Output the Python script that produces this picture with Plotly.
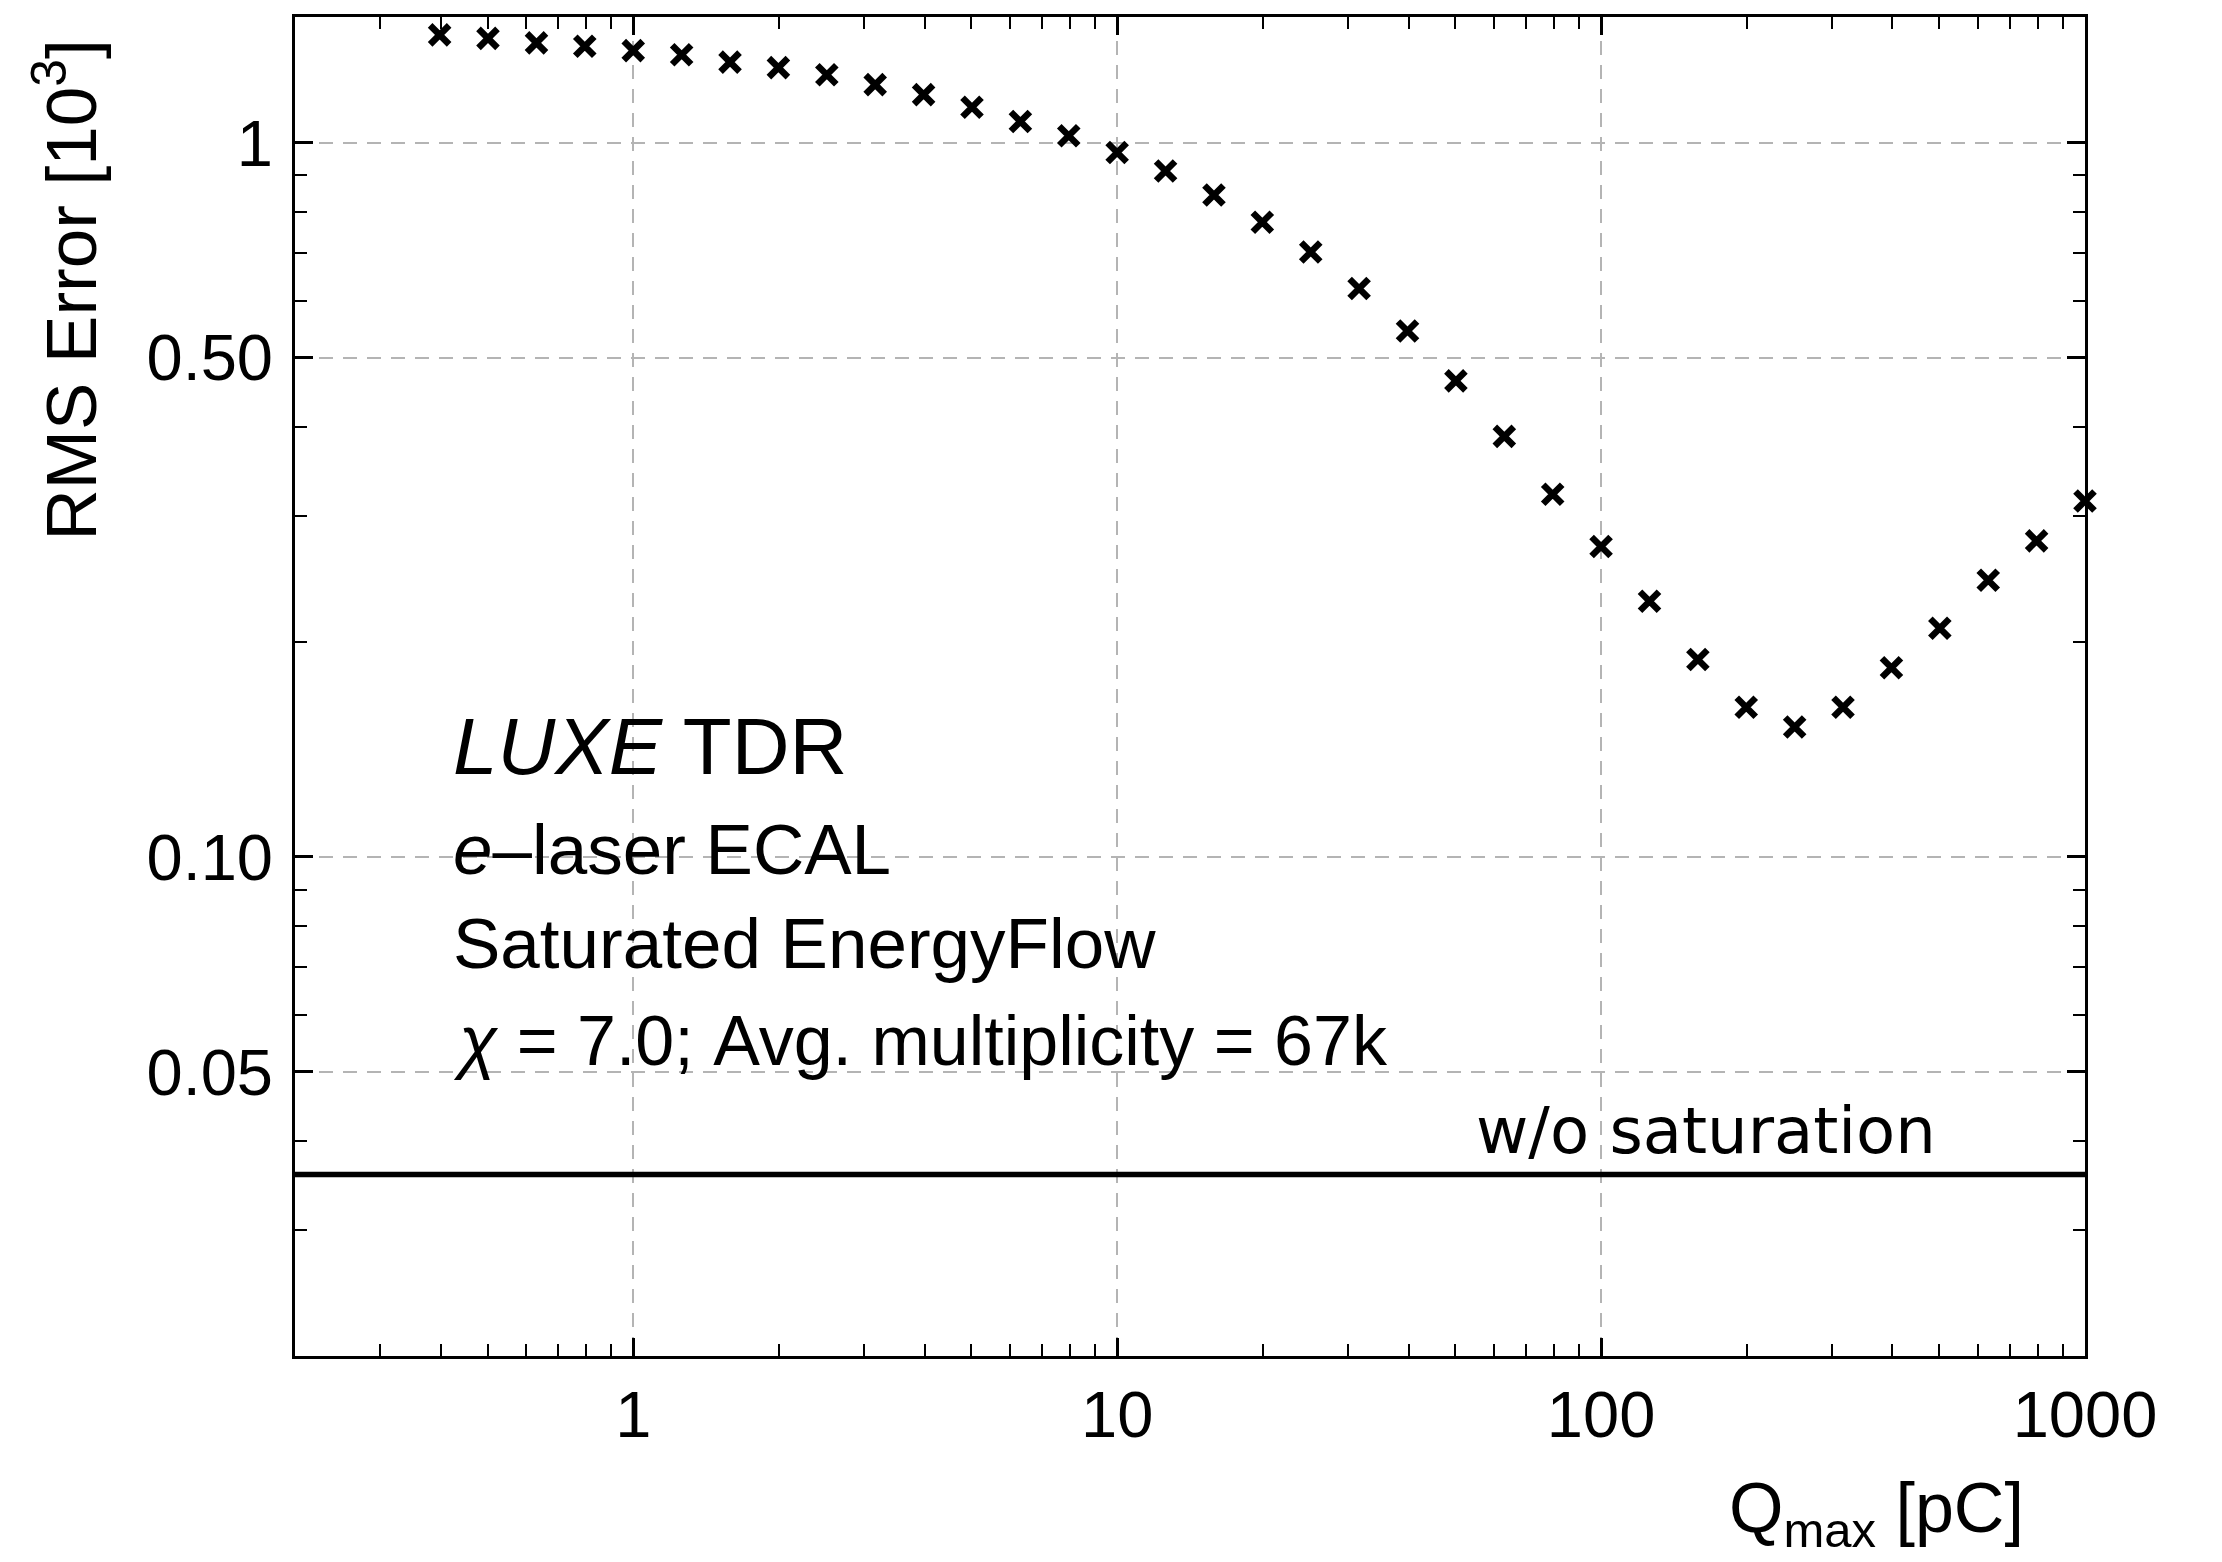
import plotly.graph_objects as go
import math

# Data
q_max = [0.398, 0.501, 0.631, 0.794, 1.0, 1.259, 1.585, 1.995, 2.512, 3.162,
         3.981, 5.012, 6.310, 7.943, 10.0, 12.59, 15.85, 19.95, 25.12, 31.62,
         39.81, 50.12, 63.10, 79.43, 100.0, 125.9, 158.5, 199.5, 251.2, 316.2,
         398.1, 501.2, 631.0, 794.3, 1000.0]
rms_error = [1.416, 1.40, 1.38, 1.365, 1.346, 1.328, 1.297, 1.274, 1.245, 1.206,
             1.168, 1.121, 1.071, 1.023, 0.969, 0.913, 0.845, 0.774, 0.703, 0.625,
             0.545, 0.464, 0.388, 0.322, 0.272, 0.228, 0.189, 0.162, 0.152, 0.162,
             0.184, 0.209, 0.244, 0.277, 0.315]
wo_saturation = 0.0359

x_major = [1, 10, 100, 1000]
x_major_text = ["1", "10", "100", "1000"]
x_minor = [0.3, 0.4, 0.5, 0.6, 0.7, 0.8, 0.9,
           2, 3, 4, 5, 6, 7, 8, 9,
           20, 30, 40, 50, 60, 70, 80, 90,
           200, 300, 400, 500, 600, 700, 800, 900]
y_major = [0.05, 0.1, 0.5, 1]
y_major_text = ["0.05", "0.10", "0.50", "1"]
y_minor = [0.02, 0.03, 0.04, 0.06, 0.07, 0.08, 0.09,
           0.2, 0.3, 0.4, 0.6, 0.7, 0.8, 0.9]

x_range = [0.2, 1000]
y_range = [0.02, 1.5]

FONT = "Liberation Sans, Arial, Helvetica, sans-serif"

fig = go.Figure()
fig.add_trace(go.Scatter(
    x=[0.1, 2000], y=[wo_saturation, wo_saturation], mode="lines",
    line=dict(color="black", width=5.5), showlegend=False, hoverinfo="skip"))
fig.add_trace(go.Scatter(
    x=q_max, y=rms_error, mode="markers",
    marker=dict(symbol="x-thin", size=19, color="black",
                line=dict(color="black", width=6.5)),
    showlegend=False, cliponaxis=False))

axis_common = dict(
    type="log", showline=True, linecolor="black", linewidth=3, mirror="ticks",
    ticks="inside", ticklen=18, tickwidth=2.5, tickcolor="black",
    showgrid=True, gridcolor="#b4b4b4", gridwidth=1.5, griddash="14px,10px",
    zeroline=False, tickmode="array",
    tickfont=dict(family=FONT, size=65, color="black"),
)

fig.update_xaxes(
    **axis_common,
    range=[math.log10(x_range[0]), math.log10(x_range[1])],
    tickvals=x_major, ticktext=x_major_text,
    minor=dict(tickmode="array", tickvals=x_minor, ticks="inside", ticklen=12,
               tickwidth=2, tickcolor="black", showgrid=False),
    ticklabelstandoff=0,
)
fig.update_yaxes(
    **axis_common,
    range=[math.log10(y_range[0]), math.log10(y_range[1])],
    tickvals=y_major, ticktext=y_major_text,
    minor=dict(tickmode="array", tickvals=y_minor, ticks="inside", ticklen=12,
               tickwidth=2, tickcolor="black", showgrid=False),
    ticklabelstandoff=6,
)

annotations = [
    dict(text="<i>LUXE</i> TDR", x=0.087, y=0.455, size=80),
    dict(text="<i>e</i>–laser ECAL", x=0.087, y=0.378, size=71),
    dict(text="Saturated EnergyFlow", x=0.087, y=0.308, size=71),
    dict(text="<i>χ</i> = 7.0; Avg. multiplicity = 67k", x=0.087, y=0.235, size=70),
]
for a in annotations:
    fig.add_annotation(text=a["text"], x=a["x"], y=a["y"], xref="paper", yref="paper",
                       xanchor="left", yanchor="middle", showarrow=False,
                       font=dict(family=FONT, size=a["size"], color="black"))

fig.add_annotation(text="w/o saturation", x=0.918, y=0.168, xref="paper", yref="paper",
                   xanchor="right", yanchor="middle", showarrow=False,
                   font=dict(family="DejaVu Sans", size=64, color="black"))
fig.add_annotation(text="Q<sub>max</sub> [pC]", x=0.967, y=-0.117, xref="paper", yref="paper",
                   xanchor="right", yanchor="middle", showarrow=False,
                   font=dict(family=FONT, size=70, color="black"))
fig.add_annotation(text="RMS Error [10<sup>3</sup>]", x=-0.128, y=0.985, xref="paper", yref="paper",
                   xanchor="center", yanchor="top", textangle=-90, showarrow=False,
                   font=dict(family=FONT, size=71, color="black"))

fig.update_layout(
    width=2222, height=1562,
    margin=dict(l=295, r=137, t=17, b=206),
    plot_bgcolor="white", paper_bgcolor="white",
    showlegend=False,
)

fig.write_html("out.html")
